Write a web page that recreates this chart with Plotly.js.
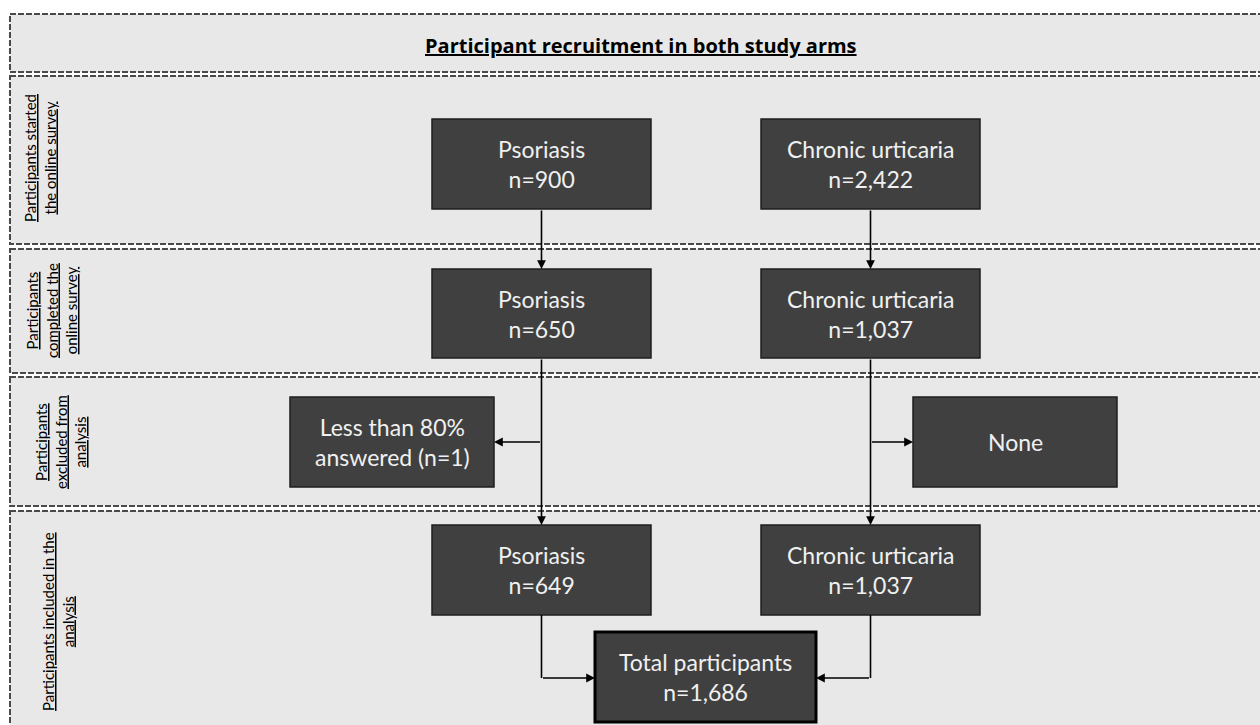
<!DOCTYPE html>
<html>
<head>
<meta charset="utf-8">
<script src="https://cdn.plot.ly/plotly-3.0.1.min.js"></script>
<style>
html,body{margin:0;padding:0;background:#fff;}
#chart{width:1260px;height:725px;}
</style>
</head>
<body>
<div id="chart"></div>
<script>
// ---- data ----
const chartTitle = "Participant recruitment in both study arms";
const stageLabels = [
  "Participants started<br>the online survey",
  "Participants<br>completed the<br>online survey",
  "Participants<br>excluded from<br>analysis",
  "Participants included in the<br>analysis"
];
const arms = ["Psoriasis", "Chronic urticaria"];
const startedN = [900, 2422];
const completedN = [650, 1037];
const excludedText = ["Less than 80%<br>answered (n=1)", "None"];
const includedN = [649, 1037];
const totalLabel = "Total participants";
const totalN = 1686;

// ---- layout geometry (pixels, y downward) ----
const fmt = v => v.toLocaleString("en-US");
const panels = [[14, 72], [76, 244], [249, 373], [377, 506], [511, 735]];
const armX = [[432, 651], [761, 980]];
const stageY = [[119, 209], [269, 358], null, [525, 615]];
const exclBox = [[290, 494], [913, 1117]];
const exclY = [397, 487];
const totalBox = [595, 816, 632, 722];
const stageLabelPos = [[40, 158], [51, 311], [60, 442], [58, 622]];

const shapes = [];
const annotations = [];
const boxFill = "#404040", boxLine = "#1e1e1e", txtCol = "#f0f0f0";
const boxFont = {family: "Lato, 'Open Sans', sans-serif", size: 23, color: txtCol};

panels.forEach(p => {
  shapes.push({type: "rect", xref: "x", yref: "y", x0: 10, x1: 1280, y0: p[0], y1: p[1],
    fillcolor: "#e8e8e8", line: {color: "#4a4a4a", width: 2, dash: "6px,2px"}, layer: "below"});
});

function box(x0, x1, y0, y1, text, lw, lc) {
  shapes.push({type: "rect", xref: "x", yref: "y", x0, x1, y0, y1,
    fillcolor: boxFill, line: {color: lc || boxLine, width: lw || 1.5}});
  annotations.push({xref: "x", yref: "y", x: (x0 + x1) / 2, y: (y0 + y1) / 2, text,
    showarrow: false, font: boxFont, xanchor: "center", yanchor: "middle"});
}

arms.forEach((a, i) => {
  box(armX[i][0], armX[i][1], stageY[0][0], stageY[0][1], a + "<br>n=" + fmt(startedN[i]));
  box(armX[i][0], armX[i][1], stageY[1][0], stageY[1][1], a + "<br>n=" + fmt(completedN[i]));
  box(exclBox[i][0], exclBox[i][1], exclY[0], exclY[1], excludedText[i]);
  box(armX[i][0], armX[i][1], stageY[3][0], stageY[3][1], a + "<br>n=" + fmt(includedN[i]));
});
box(totalBox[0], totalBox[1], totalBox[2], totalBox[3], totalLabel + "<br>n=" + fmt(totalN), 3, "#000");

function arrow(x0, y0, x1, y1) {
  annotations.push({xref: "x", yref: "y", axref: "x", ayref: "y", x: x1, y: y1, ax: x0, ay: y0,
    text: "", showarrow: true, arrowhead: 2, arrowsize: 1.1, arrowwidth: 1.6, arrowcolor: "#000", standoff: 0, startstandoff: 0});
}
function line(x0, y0, x1, y1) {
  shapes.push({type: "line", xref: "x", yref: "y", x0, y0, x1, y1, line: {color: "#000", width: 1.6}});
}

arms.forEach((a, i) => {
  const cx = (armX[i][0] + armX[i][1]) / 2;
  arrow(cx, stageY[0][1], cx, stageY[1][0]);
  arrow(cx, stageY[1][1], cx, stageY[3][0]);
  const my = (exclY[0] + exclY[1]) / 2;
  if (i === 0) arrow(cx, my, exclBox[0][1], my);
  else arrow(cx, my, exclBox[1][0], my);
  const ty = 678;
  line(cx, stageY[3][1], cx, ty);
  arrow(cx, ty, i === 0 ? totalBox[0] : totalBox[1], ty);
});

annotations.push({xref: "x", yref: "y", x: 641, y: 45, text: "<b><u>" + chartTitle + "</u></b>",
  showarrow: false, font: {family: "'Open Sans', Lato, sans-serif", size: 20, color: "#000"},
  xanchor: "center", yanchor: "middle"});

stageLabels.forEach((t, i) => {
  annotations.push({xref: "x", yref: "y", x: stageLabelPos[i][0], y: stageLabelPos[i][1],
    text: "<u>" + t + "</u>", textangle: -90, showarrow: false,
    font: {family: "Lato, 'Open Sans', sans-serif", size: 15, color: "#000"},
    xanchor: "center", yanchor: "middle"});
});

const layout = {
  width: 1260, height: 725,
  margin: {l: 0, r: 0, t: 0, b: 0},
  paper_bgcolor: "#fff", plot_bgcolor: "#fff",
  xaxis: {range: [0, 1260], visible: false, fixedrange: true},
  yaxis: {range: [725, 0], visible: false, fixedrange: true},
  shapes, annotations, showlegend: false
};
Plotly.newPlot("chart", [], layout, {staticPlot: true});
</script>
</body>
</html>
